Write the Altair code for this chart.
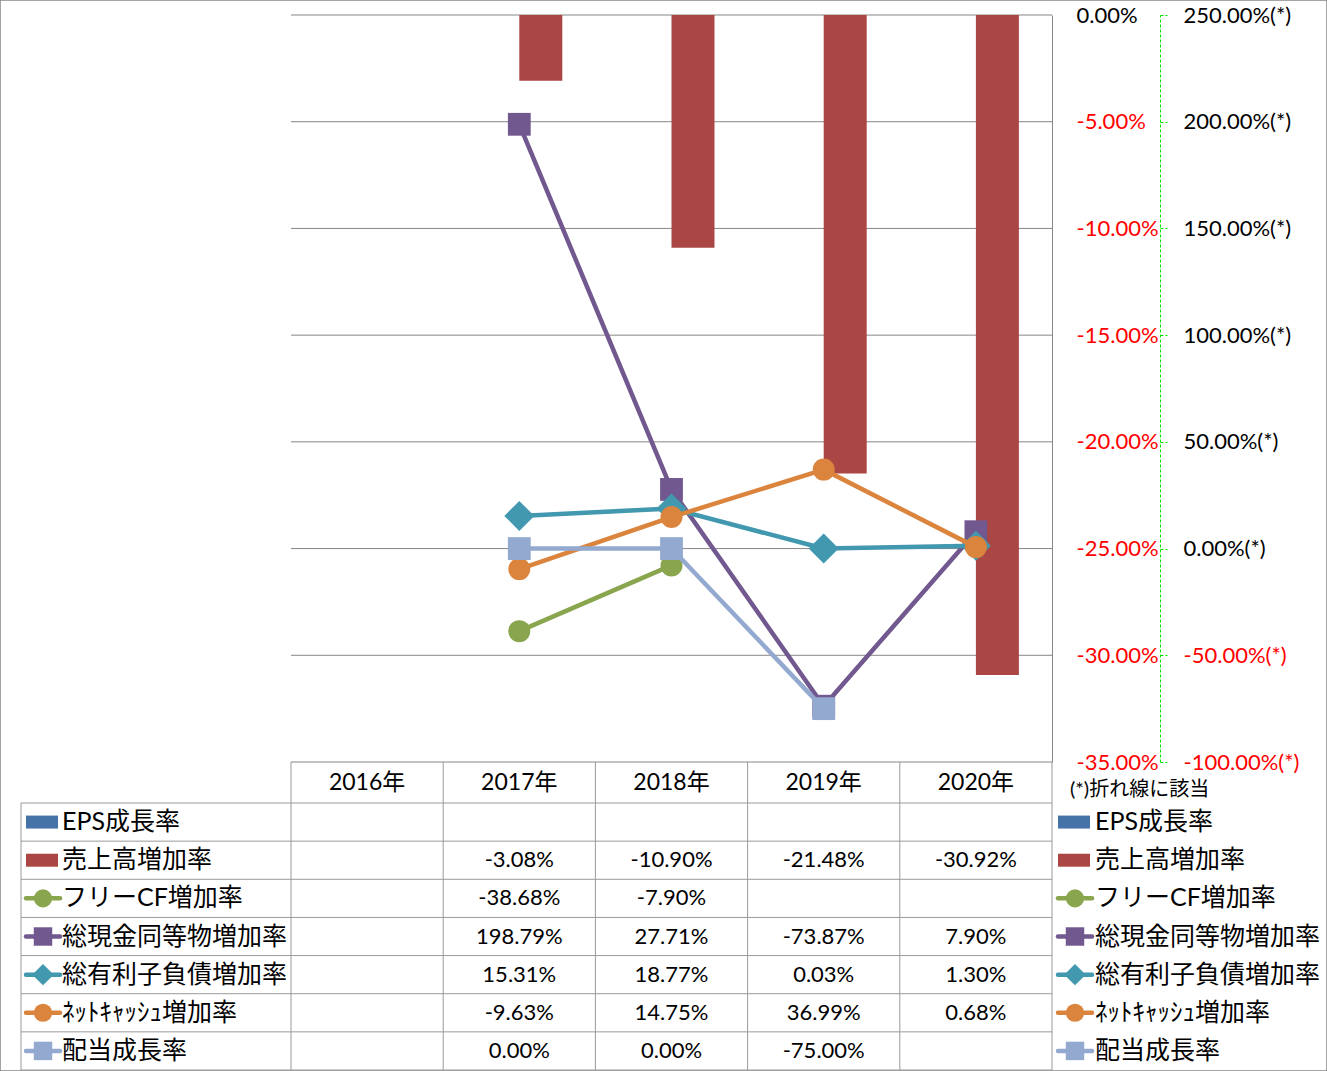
import altair as alt
import pandas as pd

# ---------------- data ----------------
years = ["2016年", "2017年", "2018年", "2019年", "2020年"]
series_names = ["EPS成長率", "売上高増加率", "フリーCF増加率", "総現金同等物増加率",
                "総有利子負債増加率", "ﾈｯﾄｷｬｯｼｭ増加率", "配当成長率"]
eps_growth = [None, None, None, None, None]
sales_growth = [None, -3.08, -10.90, -21.48, -30.92]
free_cf_growth = [None, -38.68, -7.90, None, None]
cash_growth = [None, 198.79, 27.71, -73.87, 7.90]
debt_growth = [None, 15.31, 18.77, 0.03, 1.30]
net_cash_growth = [None, -9.63, 14.75, 36.99, 0.68]
dividend_growth = [None, 0.00, 0.00, -75.00, None]
left_ticks = [0.0, -5.0, -10.0, -15.0, -20.0, -25.0, -30.0, -35.0]
right_ticks = [-100.0, -50.0, 0.0, 50.0, 100.0, 150.0, 200.0, 250.0]
note_text = "(*)折れ線に該当"

values_by_series = [eps_growth, sales_growth, free_cf_growth, cash_growth,
                    debt_growth, net_cash_growth, dividend_growth]

# ---------------- styles ----------------
colors = ["#4572A7", "#AA4643", "#89A54E", "#71588F", "#4198AF", "#DB843D", "#93A9CF"]
kinds = ["bar", "bar", "line", "line", "line", "line", "line"]
shapes = [None, None, "circle", "square", "diamond", "circle", "square"]
marker_sizes = [0, 0, 484, 520, 900, 484, 520]
legend_marker_sizes = [0, 0, 330, 340, 460, 330, 340]
GRID = "#868686"
TBL = "#9A9A9A"
GREEN = "#00E400"
NUMF = "Lato, 'Noto Sans CJK JP'"
CJKF = "Lato, 'Noto Sans CJK JP'"

records = []
for s, vals in zip(series_names, values_by_series):
    for y, v in zip(years, vals):
        records.append({"series": s, "year": y,
                        "value": None if v is None else v / 100.0,
                        "label": "" if v is None else f"{v:.2f}%"})
df = pd.DataFrame(records)
year_df = pd.DataFrame({"year": years})
series_df = pd.DataFrame({"series": series_names})
grid_df = pd.DataFrame({"tick": [t / 100.0 for t in left_ticks]})
note_df = pd.DataFrame({"note": [note_text]})

# ---------------- scales ----------------
X = alt.Scale(type="band", domain=years, range=[291, 1052], paddingInner=0, paddingOuter=0)
Y1 = alt.Scale(type="linear", domain=[-0.35, 0.0], range=[762, 15], nice=False, zero=False)
Y2 = alt.Scale(type="linear", domain=[-1.0, 2.5], range=[762, 15], nice=False, zero=False)
YR = alt.Scale(type="band", domain=series_names, range=[803, 1070], paddingInner=0, paddingOuter=0)
COLOR = alt.Scale(domain=series_names, range=colors)
XO = alt.Scale(domain=series_names[:2], paddingInner=0, paddingOuter=0.77)

fmt_expr = "replace(format(datum.value, '.2%'), '\u2212', '-')"
red_neg = {"condition": {"test": "datum.value < 0", "value": "#FF0000"}, "value": "#000000"}

left_axis = alt.Axis(orient="right", offset=-275, values=[t / 100.0 for t in left_ticks],
                     labelExpr=fmt_expr, labelColor=red_neg, labelFont=NUMF, labelFontSize=22,
                     labelPadding=24, ticks=False, domainColor=GRID, domainWidth=1,
                     grid=False, title=None, labelOverlap=False, labelFlush=False)
right_axis = alt.Axis(orient="right", offset=-167, values=[t / 100.0 for t in right_ticks],
                      labelExpr=fmt_expr + " + '(*)'", labelColor=red_neg, labelFont=NUMF,
                      labelFontSize=22, labelPadding=16, tickSize=7, tickColor=GREEN,
                      tickDash=[3, 2], domainColor=GREEN, domainDash=[3, 2], domainWidth=1,
                      grid=False, title=None, labelOverlap=False, labelFlush=False)

xband = alt.X("year:N", scale=X, axis=None, bandPosition=0.5)
yrow = alt.Y("series:N", scale=YR, axis=None, bandPosition=0.5)

layers = []

# gridlines of the plot area
layers.append(alt.Chart(grid_df).mark_rule(color=GRID, strokeWidth=1).encode(
    y=alt.Y("tick:Q", scale=Y1, axis=None), x=alt.value(291), x2=alt.value(1052)))

# clustered bars (primary axis)
layers.append(
    alt.Chart(df)
    .transform_filter(alt.FieldOneOfPredicate(field="series", oneOf=series_names[:2]))
    .transform_filter("isValid(datum.value)")
    .mark_bar()
    .encode(
        x=alt.X("year:N", scale=X, axis=None),
        xOffset=alt.XOffset("series:N", scale=XO),
        y=alt.Y("value:Q", scale=Y1, axis=left_axis),
        y2=alt.datum(0),
        color=alt.Color("series:N", scale=COLOR, legend=None),
    )
)

# lines + markers (secondary axis)
first = True
for i, s in enumerate(series_names):
    if kinds[i] != "line":
        continue
    base = (alt.Chart(df)
            .transform_filter(alt.FieldEqualPredicate(field="series", equal=s))
            .transform_filter("isValid(datum.value)"))
    ax = right_axis if first else None
    first = False
    layers.append(base.mark_line(color=colors[i], strokeWidth=4.5, strokeJoin="round",
                                 strokeCap="round").encode(
        x=xband, y=alt.Y("value:Q", scale=Y2, axis=ax)))
    layers.append(base.mark_point(shape=shapes[i], filled=True, size=marker_sizes[i],
                                  color=colors[i], opacity=1, strokeWidth=0).encode(
        x=xband, y=alt.Y("value:Q", scale=Y2, axis=None)))

# ---------------- data table ----------------
# vertical lines
layers.append(alt.Chart(year_df).mark_rule(color=TBL, strokeWidth=1).encode(
    x=alt.X("year:N", scale=X, axis=None, bandPosition=0), y=alt.value(762), y2=alt.value(1070)))
layers.append(alt.Chart(year_df).transform_filter(
    alt.FieldEqualPredicate(field="year", equal=years[-1])).mark_rule(color=TBL, strokeWidth=1).encode(
    x=alt.X("year:N", scale=X, axis=None, bandPosition=1), y=alt.value(762), y2=alt.value(1070)))
layers.append(alt.Chart(note_df).mark_rule(color=TBL, strokeWidth=1).encode(
    x=alt.value(21), y=alt.value(803), y2=alt.value(1070)))
# horizontal lines
layers.append(alt.Chart(series_df).mark_rule(color=TBL, strokeWidth=1).encode(
    y=alt.Y("series:N", scale=YR, axis=None, bandPosition=0), x=alt.value(21), x2=alt.value(1052)))
layers.append(alt.Chart(series_df).transform_filter(
    alt.FieldEqualPredicate(field="series", equal=series_names[-1])).mark_rule(color=TBL, strokeWidth=1).encode(
    y=alt.Y("series:N", scale=YR, axis=None, bandPosition=1), x=alt.value(21), x2=alt.value(1052)))

# header
layers.append(alt.Chart(year_df).mark_text(font=NUMF, fontSize=23, color="#000000").encode(
    x=xband, y=alt.value(783), text="year:N"))
# numbers
layers.append(alt.Chart(df).mark_text(font=NUMF, fontSize=22, color="#000000").encode(
    x=xband, y=yrow, text="label:N"))

# legend symbols (left in table, right outside)
for x0, tx in [(25, 62), (1057, 1095)]:
    for i, s in enumerate(series_names):
        b = alt.Chart(series_df).transform_filter(alt.FieldEqualPredicate(field="series", equal=s))
        if kinds[i] == "bar":
            layers.append(b.mark_rule(strokeWidth=13, color=colors[i]).encode(
                x=alt.value(x0 + 1), x2=alt.value(x0 + 33), y=yrow))
        else:
            layers.append(b.mark_rule(strokeWidth=4.5, color=colors[i], strokeCap="round").encode(
                x=alt.value(x0 + 1), x2=alt.value(x0 + 35), y=yrow))
            layers.append(b.mark_point(shape=shapes[i], filled=True, opacity=1, strokeWidth=0,
                                       size=legend_marker_sizes[i], color=colors[i]).encode(
                x=alt.value(x0 + 18), y=yrow))
    layers.append(alt.Chart(series_df).mark_text(align="left", font=CJKF, fontSize=25,
                                                 color="#000000").encode(
        x=alt.value(tx), y=yrow, text="series:N"))

# note
layers.append(alt.Chart(note_df).mark_text(align="left", font=CJKF, fontSize=20,
                                           color="#000000").encode(
    x=alt.value(1070), y=alt.value(790), text="note:N"))

chart = (
    alt.layer(*layers)
    .resolve_scale(y="independent")
    .properties(width=1327, height=1071, autosize=alt.AutoSizeParams(type="none"), padding=0)
    .configure_view(stroke="#868686", strokeWidth=1.5)
)

chart.save("out.html", embed_options={"renderer": "svg", "actions": False})
